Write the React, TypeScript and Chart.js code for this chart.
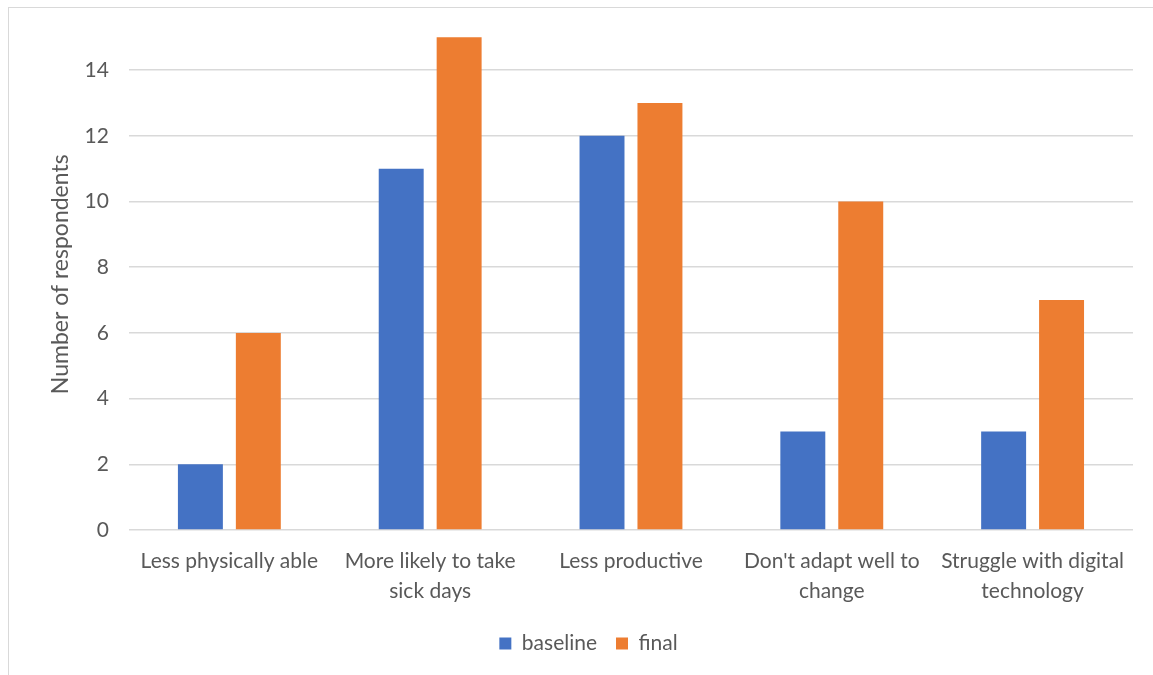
import { useEffect, useRef } from "react";
import { Chart, registerables } from "chart.js";

Chart.register(...registerables);

const categories: string[][] = [
  ["Less physically able"],
  ["More likely to take", "sick days"],
  ["Less productive"],
  ["Don't adapt well to", "change"],
  ["Struggle with digital", "technology"],
];
const baselineValues = [2, 11, 12, 3, 3];
const finalValues = [6, 15, 13, 10, 7];
const yAxisTitle = "Number of respondents";

const FONT = "Lato, 'Liberation Sans', sans-serif";
const TEXT = "#595959";

export default function App() {
  const ref = useRef<HTMLCanvasElement | null>(null);

  useEffect(() => {
    if (!ref.current) return;
    const chart = new Chart(ref.current, {
      type: "bar",
      data: {
        labels: categories,
        datasets: [
          {
            label: "baseline",
            data: baselineValues,
            backgroundColor: "#4472C4",
            categoryPercentage: 0.577,
            barPercentage: 0.776,
          },
          {
            label: "final",
            data: finalValues,
            backgroundColor: "#ED7D31",
            categoryPercentage: 0.577,
            barPercentage: 0.776,
          },
        ],
      },
      options: {
        responsive: false,
        animation: false,
        layout: { padding: { left: 35, right: 20, top: 0, bottom: 6 } },
        plugins: {
          tooltip: { enabled: false },
          legend: {
            position: "bottom",
            labels: {
              boxWidth: 12,
              boxHeight: 12,
              padding: 19,
              color: TEXT,
              font: { family: FONT, size: 21 },
            },
          },
        },
        scales: {
          x: {
            grid: { display: false },
            border: { display: false },
            ticks: {
              color: TEXT,
              padding: 8,
              maxRotation: 0,
              autoSkip: false,
              font: { family: FONT, size: 21, lineHeight: 1.43 },
            },
          },
          y: {
            min: 0,
            max: 15.57,
            border: { display: false },
            grid: { color: "#d9d9d9", lineWidth: 1.5, drawTicks: false },
            ticks: {
              stepSize: 2,
              includeBounds: false,
              color: TEXT,
              padding: 20,
              font: { family: FONT, size: 21 },
            },
            title: {
              display: true,
              text: yAxisTitle,
              color: TEXT,
              padding: { top: 3, bottom: -10 },
              font: { family: FONT, size: 23 },
            },
          },
        },
      },
    });
    return () => chart.destroy();
  }, []);

  return (
    <div
      style={{
        position: "fixed",
        left: 8,
        top: 7,
        width: 1145,
        height: 668,
        borderTop: "1px solid #d9d9d9",
        borderLeft: "1px solid #d9d9d9",
        background: "#fff",
        overflow: "hidden",
      }}
    >
      <canvas
        ref={ref}
        width={1144}
        height={684}
        style={{ display: "block", marginTop: -22 }}
      />
    </div>
  );
}
